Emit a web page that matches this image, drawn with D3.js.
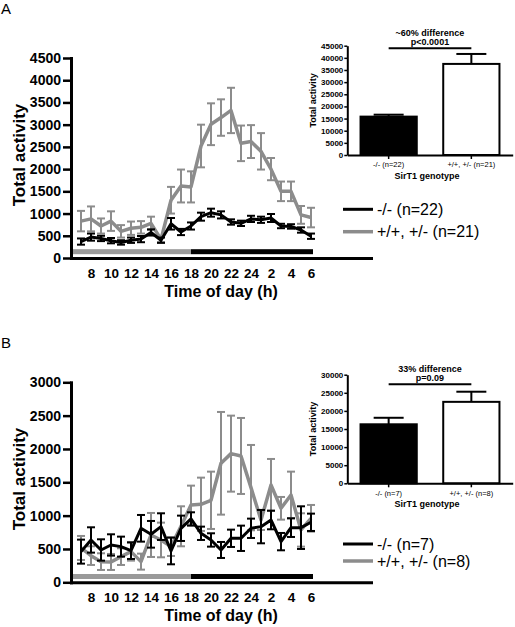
<!DOCTYPE html>
<html><head><meta charset="utf-8">
<script src="https://cdn.jsdelivr.net/npm/d3@7"></script>
<style>
html,body{margin:0;padding:0;background:#fff;}
svg{display:block;font-family:"Liberation Sans",Arial,sans-serif;}
</style></head>
<body><svg id="c" width="515" height="627"></svg>
<script>
// ---------- data ----------
const hours = [7,8,9,10,11,12,13,14,15,16,17,18,19,20,21,22,23,24,25,26,27,28,29,30];
const xTickHours = [8,10,12,14,16,18,20,22,24,26,28,30];
const xTickLabels = ["8","10","12","14","16","18","20","22","24","2","4","6"];

// Panel A (n=22 vs n=21)
const blackA    = [370,470,440,390,350,400,425,575,400,770,585,720,930,1020,970,810,780,880,860,900,720,710,630,490];
const blackAErr = [70,80,60,60,50,60,70,70,60,130,70,80,90,90,80,60,60,70,70,90,50,50,60,60];
const grayA     = [830,880,720,830,600,670,690,780,420,1300,1620,1600,2520,3010,3160,3320,2580,2620,2400,2000,1500,1500,970,910];
const grayAErr  = [230,280,170,220,140,150,140,150,60,300,370,350,480,470,410,510,400,370,410,250,220,220,200,220];

// Panel B (n=7 vs n=8)
const blackB    = [460,635,485,560,535,475,810,720,835,470,810,950,735,635,485,660,660,810,835,935,610,820,820,900];
const blackBErr = [180,190,160,160,150,125,200,200,200,200,190,100,100,100,120,130,190,145,250,140,130,140,320,130];
const grayB     = [515,400,310,305,385,460,310,710,635,535,840,1160,1170,1230,1785,1930,1895,1420,935,1460,1110,1310,785,960];
const grayBErr  = [180,140,125,120,125,135,120,330,260,140,300,290,400,430,770,570,570,640,150,390,170,350,250,200];

const yTicksA = [0,500,1000,1500,2000,2500,3000,3500,4000,4500];
const yTicksB = [0,500,1000,1500,2000,2500,3000];

// light / dark periods
const periods = [{from:6,to:18,dark:false},{from:18,to:30.2,dark:true}];

// insets
const genotypesA = ["-/- (n=22)","+/+, +/- (n=21)"];
const totalsA = [15800,37500];
const totalsAErr = [800,4100];
const insetTicksA = [0,5000,10000,15000,20000,25000,30000,35000,40000,45000];
const genotypesB = ["-/- (n=7)","+/+, +/- (n=8)"];
const totalsB = [16300,22500];
const totalsBErr = [1800,2800];
const insetTicksB = [0,5000,10000,15000,20000,25000,30000];

const legendA = ["-/- (n=22)","+/+, +/- (n=21)"];
const legendB = ["-/- (n=7)","+/+, +/- (n=8)"];

// ---------- drawing ----------
const svg = d3.select("#c");
const BLACK = "#000", GRAY = "#8c8c8c";

function mainPanel(o){
  const g = svg.append("g");
  const x = d3.scaleLinear().domain([6,36]).range([71,371]);
  const y = d3.scaleLinear().domain([0,o.ymax]).range([o.y0,o.y1]);

  g.selectAll("rect.period").data(periods).join("rect")
    .attr("x",d=>x(d.from)).attr("width",d=>x(d.to)-x(d.from))
    .attr("y",o.barY-2.5).attr("height",5)
    .attr("fill",d=>d.dark?"#000":"#9a9a9a");

  function series(vals, errs, color, lw){
    const pts = hours.map((h,i)=>({h,v:vals[i],e:errs[i]}));
    const eb = g.append("g");
    pts.forEach(p=>{
      const xx = x(p.h), yt = y(p.v+p.e), yb = y(Math.max(0,p.v-p.e));
      eb.append("line").attr("x1",xx).attr("x2",xx).attr("y1",yt).attr("y2",yb)
        .attr("stroke",color).attr("stroke-width",2);
      [yt,yb].forEach(yy=>eb.append("line").attr("x1",xx-4).attr("x2",xx+4)
        .attr("y1",yy).attr("y2",yy).attr("stroke",color).attr("stroke-width",2));
    });
    g.append("path").datum(pts)
      .attr("d",d3.line().x(d=>x(d.h)).y(d=>y(d.v)))
      .attr("fill","none").attr("stroke",color).attr("stroke-width",lw)
      .attr("stroke-linejoin","round");
  }
  series(o.gray,o.grayErr,GRAY,3.5);
  series(o.black,o.blackErr,BLACK,3);

  const ya = g.append("g").attr("transform","translate(71,0)")
    .call(d3.axisLeft(y).tickValues(o.yTicks).tickSize(8).tickSizeOuter(0).tickPadding(2).tickFormat(d3.format("d")));
  ya.select(".domain").attr("stroke-width",3).attr("stroke-linecap","square");
  ya.selectAll(".tick line").attr("stroke-width",2.5);
  ya.selectAll("text").attr("font-size",14).attr("font-weight","bold").attr("fill","#000")
    .attr("font-family","Liberation Sans, Arial, sans-serif");

  const xa = g.append("g").attr("transform",`translate(0,${o.y0})`)
    .call(d3.axisBottom(x).tickValues(xTickHours).tickSize(0).tickPadding(10.5)
      .tickFormat((d,i)=>xTickLabels[i]));
  xa.select(".domain").attr("stroke-width",3).attr("stroke-linecap","square");
  xa.selectAll("text").attr("font-size",13.5).attr("font-weight","bold").attr("fill","#000")
    .attr("font-family","Liberation Sans, Arial, sans-serif");

  g.append("text").attr("x",221).attr("y",o.y0+39).attr("text-anchor","middle")
    .attr("font-size",16).attr("font-weight","bold").text("Time of day (h)");
  g.append("text").attr("transform",`translate(25,${o.ylabY}) rotate(-90)`)
    .attr("text-anchor","middle").attr("font-size",17).attr("font-weight","bold").text("Total activity");

  const lg = g.selectAll("g.leg").data(o.legend).join("g")
    .attr("transform",(d,i)=>`translate(343,${o.legY[i]})`);
  lg.append("line").attr("x1",0).attr("x2",30).attr("y1",0).attr("y2",0)
    .attr("stroke",(d,i)=>i===0?BLACK:GRAY).attr("stroke-width",(d,i)=>i===0?3:3.5);
  lg.append("text").attr("x",34).attr("y",0).attr("dy","0.35em").attr("font-size",16).text(d=>d);

  g.append("text").attr("x",1).attr("y",o.labelY).attr("font-size",15).text(o.label);
}

function inset(o){
  const g = svg.append("g");
  const x = d3.scaleBand().domain(o.cats).range([347.3,512.7]).paddingInner(0.32).paddingOuter(0.16);
  const y = d3.scaleLinear().domain([0,o.ymax]).range([o.y0,o.y1]);
  o.cats.forEach((c,i)=>{
    const bx = x(c), bw = x.bandwidth(), cx = bx+bw/2;
    g.append("rect").attr("x",bx).attr("width",bw).attr("y",y(o.vals[i])).attr("height",o.y0-y(o.vals[i]))
      .attr("fill",i===0?"#000":"#fff").attr("stroke","#000").attr("stroke-width",2);
    const yt = y(o.vals[i]+o.errs[i]);
    g.append("line").attr("x1",cx).attr("x2",cx).attr("y1",y(o.vals[i])).attr("y2",yt).attr("stroke","#000").attr("stroke-width",2);
    g.append("line").attr("x1",cx-15).attr("x2",cx+15).attr("y1",yt).attr("y2",yt).attr("stroke","#000").attr("stroke-width",2);
  });
  const ya = g.append("g").attr("transform","translate(347.3,0)")
    .call(d3.axisLeft(y).tickValues(o.ticks).tickSize(3).tickSizeOuter(0).tickPadding(1).tickFormat(d3.format("d")));
  ya.select(".domain").attr("stroke-width",2);
  ya.selectAll(".tick line").attr("stroke-width",1.5);
  ya.selectAll("text").attr("font-size",8).attr("font-weight","bold").attr("fill","#000")
    .attr("font-family","Liberation Sans, Arial, sans-serif");
  const xa = g.append("g").attr("transform",`translate(0,${o.y0})`)
    .call(d3.axisBottom(x).tickSize(4).tickSizeOuter(0).tickPadding(3));
  xa.select(".domain").attr("stroke-width",2);
  xa.selectAll(".tick line").attr("stroke-width",1.5);
  xa.selectAll("text").attr("font-size",7.5).attr("fill","#000")
    .attr("font-family","Liberation Sans, Arial, sans-serif");
  g.append("text").attr("x",427).attr("y",o.y0+24).attr("text-anchor","middle")
    .attr("font-size",9).attr("font-weight","bold").text("SirT1 genotype");
  g.append("text").attr("transform",`translate(316,${(o.y0+o.y1)/2}) rotate(-90)`)
    .attr("text-anchor","middle").attr("font-size",9).attr("font-weight","bold").text("Total activity");
  const c0 = x(o.cats[0])+x.bandwidth()/2, c1 = x(o.cats[1])+x.bandwidth()/2;
  g.append("line").attr("x1",c0).attr("x2",c1).attr("y1",o.brY).attr("y2",o.brY).attr("stroke","#000").attr("stroke-width",2);
  g.append("text").attr("x",(c0+c1)/2).attr("y",o.brY-3).attr("text-anchor","middle")
    .attr("font-size",9).attr("font-weight","bold").text(o.p);
  g.append("text").attr("x",(c0+c1)/2).attr("y",o.brY-12.3).attr("text-anchor","middle")
    .attr("font-size",9).attr("font-weight","bold").text(o.diff);
}

mainPanel({ymax:4500,y0:258,y1:58,yTicks:yTicksA,barY:251.7,black:blackA,blackErr:blackAErr,
  gray:grayA,grayErr:grayAErr,legend:legendA,legY:[209.3,231.7],label:"A",labelY:14,ylabY:155});
mainPanel({ymax:3000,y0:582.3,y1:382.3,yTicks:yTicksB,barY:576.5,black:blackB,blackErr:blackBErr,
  gray:grayB,grayErr:grayBErr,legend:legendB,legY:[544,561],label:"B",labelY:348,ylabY:479});

inset({cats:genotypesA,vals:totalsA,errs:totalsAErr,ymax:45000,y0:155,y1:45.7,ticks:insetTicksA,
  brY:48.3,p:"p<0.0001",diff:"~60% difference"});
inset({cats:genotypesB,vals:totalsB,errs:totalsBErr,ymax:30000,y0:483.3,y1:374.7,ticks:insetTicksB,
  brY:384.3,p:"p=0.09",diff:"33% difference"});
</script></body></html>
